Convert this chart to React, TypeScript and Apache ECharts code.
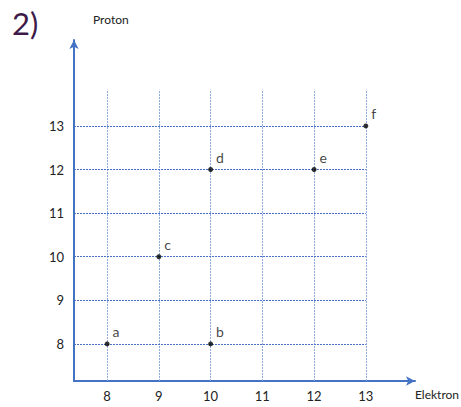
import React, { useEffect, useRef } from "react";
import * as echarts from "echarts";

const xTicks = [8, 9, 10, 11, 12, 13];
const yTicks = [8, 9, 10, 11, 12, 13];
const pointNames = ["a", "b", "c", "d", "e", "f"];
const electrons = [8, 10, 9, 10, 12, 13];
const protons = [8, 8, 10, 12, 12, 13];

const X_MIN = 7.36;
const X_MAX = 13.95;
const Y_MIN = 7.15;
const Y_MAX = 14.97;
const V_GRID_TOP = 13.83;

const FONT = "Lato, 'Open Sans', sans-serif";
const AXIS_BLUE = "#4472C4";

export default function App() {
  const ref = useRef<HTMLDivElement>(null);
  useEffect(() => {
    const chart = echarts.init(ref.current!, null, { renderer: "svg" });
    const vLines = xTicks.map((x) => [
      { coord: [x, Y_MIN] },
      { coord: [x, V_GRID_TOP] },
    ]);
    const hLines = yTicks.map((y) => [
      { coord: [X_MIN, y] },
      { coord: [xTicks[xTicks.length - 1], y] },
    ]);
    chart.setOption({
      animation: false,
      title: {
        text: "2)",
        left: 7,
        top: 2,
        textStyle: { fontFamily: FONT, fontSize: 31, fontWeight: "normal", color: "#3D1A47" },
      },
      grid: { left: 74, right: 46, top: 40, bottom: 26 },
      xAxis: {
        type: "value",
        min: X_MIN,
        max: X_MAX,
        axisLine: {
          onZero: false,
          symbol: ["none", "arrow"],
          symbolSize: [7, 9],
          lineStyle: { color: AXIS_BLUE, width: 2 },
        },
        axisTick: { show: false },
        splitLine: { show: false },
        axisLabel: {
          customValues: xTicks,
          margin: 8,
          color: "#222",
          fontFamily: FONT,
          fontSize: 13,
        },
      },
      yAxis: {
        type: "value",
        min: Y_MIN,
        max: Y_MAX,
        axisLine: {
          onZero: false,
          symbol: ["none", "arrow"],
          symbolSize: [7, 9],
          lineStyle: { color: AXIS_BLUE, width: 2 },
        },
        axisTick: { show: false },
        splitLine: { show: false },
        axisLabel: {
          customValues: yTicks,
          margin: 10,
          color: "#222",
          fontFamily: FONT,
          fontSize: 13,
        },
      },
      graphic: [
        {
          type: "text",
          left: 93,
          top: 13,
          style: { text: "Proton", font: `12px ${FONT}`, fill: "#222" },
        },
        {
          type: "text",
          right: 2,
          top: 388,
          style: { text: "Elektron", font: `12px ${FONT}`, fill: "#222" },
        },
      ],
      series: [
        {
          type: "line",
          data: [],
          silent: true,
          markLine: {
            silent: true,
            symbol: "none",
            label: { show: false },
            lineStyle: { color: "#8FAADC", width: 1, type: [2, 1] },
            data: vLines,
          },
        },
        {
          type: "line",
          data: [],
          silent: true,
          markLine: {
            silent: true,
            symbol: "none",
            label: { show: false },
            lineStyle: { color: "#4A72C4", width: 1, type: [2, 1] },
            data: hLines,
          },
        },
        {
          type: "scatter",
          symbolSize: 5,
          itemStyle: { color: "#000" },
          data: electrons.map((x, i) => ({ value: [x, protons[i]], name: pointNames[i] })),
          label: {
            show: true,
            formatter: "{b}",
            position: "right",
            distance: 3,
            offset: [0, -12],
            color: "#111",
            fontFamily: FONT,
            fontSize: 14,
          },
          z: 5,
        },
      ],
    });
    return () => chart.dispose();
  }, []);
  return <div ref={ref} style={{ width: 461, height: 407, position: "absolute", left: 0, top: 0 }} />;
}
